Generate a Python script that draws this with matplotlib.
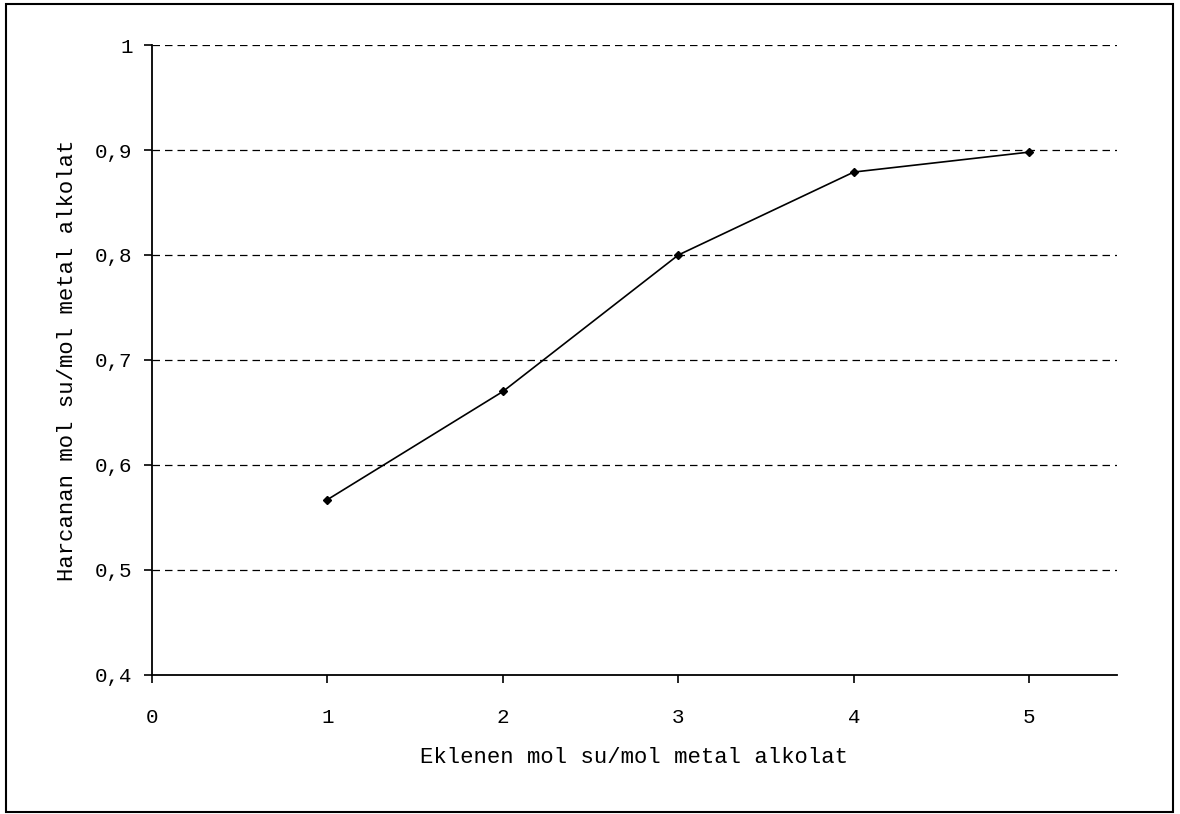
import matplotlib.pyplot as plt
from matplotlib.patches import Rectangle
from matplotlib.ticker import FuncFormatter

# data
su_mol = [1, 2, 3, 4, 5]
harcanan = [0.567, 0.670, 0.800, 0.879, 0.898]

x_ticks = [0, 1, 2, 3, 4, 5]
y_ticks = [0.4, 0.5, 0.6, 0.7, 0.8, 0.9, 1.0]

plt.rcParams['font.family'] = ['Liberation Mono', 'DejaVu Sans Mono']

fig = plt.figure(figsize=(11.8, 8.14), dpi=100)
ax = fig.add_axes([0.1288, 0.1708, 0.8178, 0.7739])

# outer frame around the whole chart
fig.patches.append(Rectangle((6 / 1180, 2 / 814), 1167 / 1180, 808 / 814,
                             transform=fig.transFigure, fill=False,
                             edgecolor='black', linewidth=1.5))

# dashed horizontal grid
for yv in y_ticks[1:]:
    ax.axhline(yv, color='black', linestyle=(0, (6, 4)), linewidth=0.9, zorder=1)

ax.plot(su_mol, harcanan, color='black', linewidth=1.2, marker='D',
        markersize=4, zorder=3)

ax.set_xlim(0, 5.5)
ax.set_ylim(0.4, 1.0)
ax.set_xticks(x_ticks)
ax.set_yticks(y_ticks)
ax.yaxis.set_major_formatter(FuncFormatter(
    lambda v, p: '1' if abs(v - 1) < 1e-9 else ('%.1f' % v).replace('.', ',')))

for s in ['top', 'right']:
    ax.spines[s].set_visible(False)
for s in ['left', 'bottom']:
    ax.spines[s].set_linewidth(1.3)

ax.tick_params(axis='both', direction='out', length=6, width=1.2,
               labelsize=15, pad=8)
ax.tick_params(axis='x', pad=18)

ax.set_xlabel('Eklenen mol su/mol metal alkolat', fontsize=16, labelpad=14)
ax.set_ylabel('Harcanan mol su/mol metal alkolat', fontsize=16, labelpad=12)

fig.savefig('out.png', dpi=100)
